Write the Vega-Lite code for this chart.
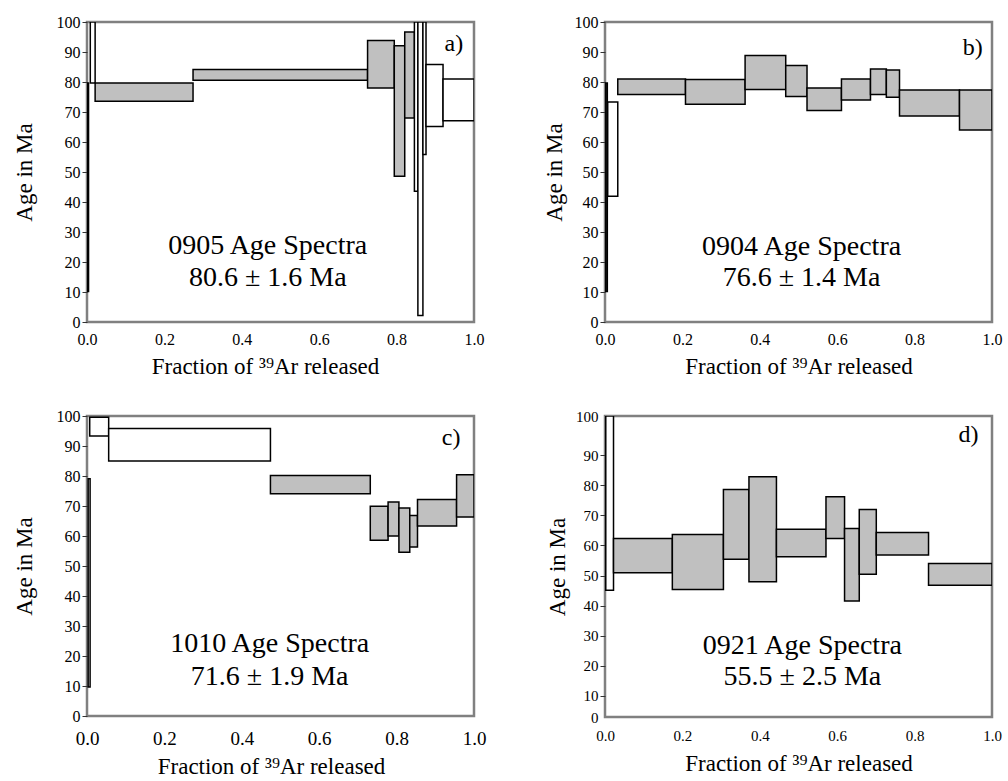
{
  "$schema": "https://vega.github.io/schema/vega-lite/v6.json",
  "background": "white",
  "padding": {"left": 11, "top": 12, "right": 5, "bottom": 5},
  "bounds": "flush",
  "columns": 2,
  "spacing": {"row": 94, "column": 131},
  "concat": [
    {
      "width": 387, "height": 300,
      "encoding": {
        "x": {"field": "x1", "type": "quantitative", "scale": {"domain": [0, 1], "nice": false},
          "axis": {"values": [0, 0.2, 0.4, 0.6, 0.8, 1], "format": ".1f", "title": "Fraction of  ³⁹Ar released", "ticks": false, "domain": false, "grid": false, "labelPadding": 9, "titlePadding": 8, "labelFontSize": 16, "titleFontSize": 23, "titleX": 178}},
        "y": {"field": "y1", "type": "quantitative", "scale": {"domain": [0, 100], "nice": false},
          "axis": {"values": [0, 10, 20, 30, 40, 50, 60, 70, 80, 90, 100], "title": "Age in Ma", "domain": false, "grid": false, "tickSize": 5, "labelPadding": 2, "titlePadding": 20, "labelFontSize": 16, "titleFontSize": 23}}
      },
      "layer": [
        {
          "data": {"values": [
            {"x1": 0.001, "x2": 0.004, "y1": 10.2, "y2": 79.7, "step": "excluded"},
            {"x1": 0.0085, "x2": 0.021, "y1": 79.7, "y2": 100, "step": "excluded"},
            {"x1": 0.021, "x2": 0.274, "y1": 73.6, "y2": 79.7, "step": "plateau"},
            {"x1": 0.274, "x2": 0.725, "y1": 80.6, "y2": 84.2, "step": "plateau"},
            {"x1": 0.725, "x2": 0.794, "y1": 78.0, "y2": 93.8, "step": "plateau"},
            {"x1": 0.794, "x2": 0.821, "y1": 48.6, "y2": 92.1, "step": "plateau"},
            {"x1": 0.821, "x2": 0.846, "y1": 68.0, "y2": 96.7, "step": "plateau"},
            {"x1": 0.846, "x2": 0.855, "y1": 43.6, "y2": 100, "step": "excluded"},
            {"x1": 0.855, "x2": 0.868, "y1": 2.2, "y2": 100, "step": "excluded"},
            {"x1": 0.868, "x2": 0.876, "y1": 55.8, "y2": 100, "step": "excluded"},
            {"x1": 0.876, "x2": 0.920, "y1": 65.2, "y2": 85.8, "step": "excluded"},
            {"x1": 0.920, "x2": 1.0, "y1": 67.1, "y2": 81.0, "step": "excluded"}
          ]},
          "mark": {"type": "rect", "stroke": "black", "strokeWidth": 1.5, "clip": true},
          "encoding": {"x2": {"field": "x2"}, "y2": {"field": "y2"},
            "color": {"field": "step", "type": "nominal", "scale": {"domain": ["plateau", "excluded"], "range": ["#c0c0c0", "#ffffff"]}, "legend": null}}
        },
        {
          "data": {"values": [
            {"x1": 0.467, "y1": 22.7, "text": "0905 Age Spectra"},
            {"x1": 0.467, "y1": 12.1, "text": "80.6 ± 1.6 Ma"}
          ]},
          "mark": {"type": "text", "fontSize": 28, "align": "center", "baseline": "alphabetic"},
          "encoding": {"text": {"field": "text"}}
        },
        {
          "data": {"values": [{"x1": 0.972, "y1": 90.2, "text": "a)"}]},
          "mark": {"type": "text", "fontSize": 24, "align": "right", "baseline": "alphabetic"},
          "encoding": {"text": {"field": "text"}}
        }
      ]
    },
    {
      "width": 387, "height": 300,
      "encoding": {
        "x": {"field": "x1", "type": "quantitative", "scale": {"domain": [0, 1], "nice": false},
          "axis": {"values": [0, 0.2, 0.4, 0.6, 0.8, 1], "format": ".1f", "title": "Fraction of  ³⁹Ar released", "ticks": false, "domain": false, "grid": false, "labelPadding": 9, "titlePadding": 8, "labelFontSize": 16, "titleFontSize": 23}},
        "y": {"field": "y1", "type": "quantitative", "scale": {"domain": [0, 100], "nice": false},
          "axis": {"values": [0, 10, 20, 30, 40, 50, 60, 70, 80, 90, 100], "title": "Age in Ma", "domain": false, "grid": false, "tickSize": 5, "labelPadding": 2, "titlePadding": 8, "labelFontSize": 16, "titleFontSize": 23}}
      },
      "layer": [
        {
          "data": {"values": [
            {"x1": 0.002, "x2": 0.006, "y1": 10.2, "y2": 79.7, "step": "excluded"},
            {"x1": 0.007, "x2": 0.033, "y1": 41.9, "y2": 73.3, "step": "excluded"},
            {"x1": 0.033, "x2": 0.208, "y1": 75.8, "y2": 81.0, "step": "plateau"},
            {"x1": 0.208, "x2": 0.362, "y1": 72.6, "y2": 80.8, "step": "plateau"},
            {"x1": 0.362, "x2": 0.467, "y1": 77.5, "y2": 88.8, "step": "plateau"},
            {"x1": 0.467, "x2": 0.522, "y1": 75.2, "y2": 85.5, "step": "plateau"},
            {"x1": 0.522, "x2": 0.611, "y1": 70.5, "y2": 78.0, "step": "plateau"},
            {"x1": 0.611, "x2": 0.686, "y1": 74.0, "y2": 81.0, "step": "plateau"},
            {"x1": 0.686, "x2": 0.727, "y1": 75.8, "y2": 84.3, "step": "plateau"},
            {"x1": 0.727, "x2": 0.761, "y1": 74.9, "y2": 84.0, "step": "plateau"},
            {"x1": 0.761, "x2": 0.916, "y1": 68.7, "y2": 77.3, "step": "plateau"},
            {"x1": 0.916, "x2": 1.0, "y1": 64.0, "y2": 77.3, "step": "plateau"}
          ]},
          "mark": {"type": "rect", "stroke": "black", "strokeWidth": 1.5, "clip": true},
          "encoding": {"x2": {"field": "x2"}, "y2": {"field": "y2"},
            "color": {"field": "step", "type": "nominal", "scale": {"domain": ["plateau", "excluded"], "range": ["#c0c0c0", "#ffffff"]}, "legend": null}}
        },
        {
          "data": {"values": [
            {"x1": 0.508, "y1": 22.5, "text": "0904 Age Spectra"},
            {"x1": 0.508, "y1": 11.9, "text": "76.6 ± 1.4 Ma"}
          ]},
          "mark": {"type": "text", "fontSize": 28, "align": "center", "baseline": "alphabetic"},
          "encoding": {"text": {"field": "text"}}
        },
        {
          "data": {"values": [{"x1": 0.976, "y1": 89.1, "text": "b)"}]},
          "mark": {"type": "text", "fontSize": 24, "align": "right", "baseline": "alphabetic"},
          "encoding": {"text": {"field": "text"}}
        }
      ]
    },
    {
      "width": 387, "height": 300,
      "encoding": {
        "x": {"field": "x1", "type": "quantitative", "scale": {"domain": [0, 1], "nice": false},
          "axis": {"values": [0, 0.2, 0.4, 0.6, 0.8, 1], "format": ".1f", "title": "Fraction of  ³⁹Ar released", "ticks": false, "domain": false, "grid": false, "labelPadding": 13, "titlePadding": 7, "labelFontSize": 19, "titleFontSize": 23, "titleX": 184}},
        "y": {"field": "y1", "type": "quantitative", "scale": {"domain": [0, 100], "nice": false},
          "axis": {"values": [0, 10, 20, 30, 40, 50, 60, 70, 80, 90, 100], "title": "Age in Ma", "domain": false, "grid": false, "tickSize": 5, "labelPadding": 2, "titlePadding": 20, "labelFontSize": 16, "titleFontSize": 23}}
      },
      "layer": [
        {
          "data": {"values": [
            {"x1": 0.003, "x2": 0.008, "y1": 9.7, "y2": 79.1, "step": "excluded"},
            {"x1": 0.007, "x2": 0.056, "y1": 93.3, "y2": 99.6, "step": "excluded"},
            {"x1": 0.056, "x2": 0.474, "y1": 85.0, "y2": 95.8, "step": "excluded"},
            {"x1": 0.474, "x2": 0.732, "y1": 74.1, "y2": 80.2, "step": "plateau"},
            {"x1": 0.732, "x2": 0.778, "y1": 58.6, "y2": 69.9, "step": "plateau"},
            {"x1": 0.778, "x2": 0.806, "y1": 60.0, "y2": 71.3, "step": "plateau"},
            {"x1": 0.806, "x2": 0.834, "y1": 54.6, "y2": 69.3, "step": "plateau"},
            {"x1": 0.834, "x2": 0.854, "y1": 56.3, "y2": 66.8, "step": "plateau"},
            {"x1": 0.854, "x2": 0.955, "y1": 63.3, "y2": 72.2, "step": "plateau"},
            {"x1": 0.955, "x2": 1.0, "y1": 66.3, "y2": 80.4, "step": "plateau"}
          ]},
          "mark": {"type": "rect", "stroke": "black", "strokeWidth": 1.5, "clip": true},
          "encoding": {"x2": {"field": "x2"}, "y2": {"field": "y2"},
            "color": {"field": "step", "type": "nominal", "scale": {"domain": ["plateau", "excluded"], "range": ["#c0c0c0", "#ffffff"]}, "legend": null}}
        },
        {
          "data": {"values": [
            {"x1": 0.472, "y1": 21.3, "text": "1010 Age Spectra"},
            {"x1": 0.472, "y1": 10.2, "text": "71.6 ± 1.9 Ma"}
          ]},
          "mark": {"type": "text", "fontSize": 28, "align": "center", "baseline": "alphabetic"},
          "encoding": {"text": {"field": "text"}}
        },
        {
          "data": {"values": [{"x1": 0.965, "y1": 90.2, "text": "c)"}]},
          "mark": {"type": "text", "fontSize": 24, "align": "right", "baseline": "alphabetic"},
          "encoding": {"text": {"field": "text"}}
        }
      ]
    },
    {
      "width": 387, "height": 301,
      "encoding": {
        "x": {"field": "x1", "type": "quantitative", "scale": {"domain": [0, 1], "nice": false},
          "axis": {"values": [0, 0.2, 0.4, 0.6, 0.8, 1], "format": ".1f", "title": "Fraction of  ³⁹Ar released", "ticks": false, "domain": false, "grid": false, "labelPadding": 11, "titlePadding": 9, "labelFontSize": 15, "titleFontSize": 23}},
        "y": {"field": "y1", "type": "quantitative", "scale": {"domain": [3, 103], "nice": false, "zero": false},
          "axis": {"values": [3, 10, 20, 30, 40, 50, 60, 70, 80, 90, 103], "labelExpr": "datum.value == 3 ? '0' : datum.value == 103 ? '100' : datum.label", "tickOpacity": {"condition": {"test": "datum.value == 3 || datum.value == 103", "value": 0}, "value": 1}, "title": "Age in Ma", "domain": false, "grid": false, "tickSize": 5, "labelPadding": 2, "titlePadding": 6, "labelFontSize": 15, "titleFontSize": 23}}
      },
      "layer": [
        {
          "data": {"values": [
            {"x1": 0.002, "x2": 0.022, "y1": 45.1, "y2": 103, "step": "excluded"},
            {"x1": 0.022, "x2": 0.174, "y1": 50.9, "y2": 62.3, "step": "plateau"},
            {"x1": 0.174, "x2": 0.306, "y1": 45.4, "y2": 63.6, "step": "plateau"},
            {"x1": 0.306, "x2": 0.372, "y1": 55.4, "y2": 78.6, "step": "plateau"},
            {"x1": 0.372, "x2": 0.443, "y1": 47.9, "y2": 82.8, "step": "plateau"},
            {"x1": 0.443, "x2": 0.571, "y1": 56.2, "y2": 65.4, "step": "plateau"},
            {"x1": 0.571, "x2": 0.619, "y1": 62.3, "y2": 76.2, "step": "plateau"},
            {"x1": 0.619, "x2": 0.657, "y1": 41.5, "y2": 65.6, "step": "plateau"},
            {"x1": 0.657, "x2": 0.701, "y1": 50.4, "y2": 71.9, "step": "plateau"},
            {"x1": 0.701, "x2": 0.836, "y1": 56.8, "y2": 64.3, "step": "plateau"},
            {"x1": 0.836, "x2": 1.0, "y1": 46.8, "y2": 54.0, "step": "plateau"}
          ]},
          "mark": {"type": "rect", "stroke": "black", "strokeWidth": 1.5, "clip": true},
          "encoding": {"x2": {"field": "x2"}, "y2": {"field": "y2"},
            "color": {"field": "step", "type": "nominal", "scale": {"domain": ["plateau", "excluded"], "range": ["#c0c0c0", "#ffffff"]}, "legend": null}}
        },
        {
          "data": {"values": [
            {"x1": 0.510, "y1": 23.9, "text": "0921 Age Spectra"},
            {"x1": 0.510, "y1": 13.6, "text": "55.5 ± 2.5 Ma"}
          ]},
          "mark": {"type": "text", "fontSize": 28, "align": "center", "baseline": "alphabetic"},
          "encoding": {"text": {"field": "text"}}
        },
        {
          "data": {"values": [{"x1": 0.965, "y1": 94.4, "text": "d)"}]},
          "mark": {"type": "text", "fontSize": 24, "align": "right", "baseline": "alphabetic"},
          "encoding": {"text": {"field": "text"}}
        }
      ]
    }
  ],
  "config": {
    "font": "Liberation Serif",
    "view": {"stroke": "#808080", "strokeWidth": 2.5},
    "axis": {"labelFlush": false, "labelOverlap": false, "labelColor": "black", "titleColor": "black", "tickColor": "#333333", "titleFontWeight": "normal", "labelFont": "Liberation Serif", "titleFont": "Liberation Serif"},
    "text": {"color": "black", "font": "Liberation Serif"}
  }
}
